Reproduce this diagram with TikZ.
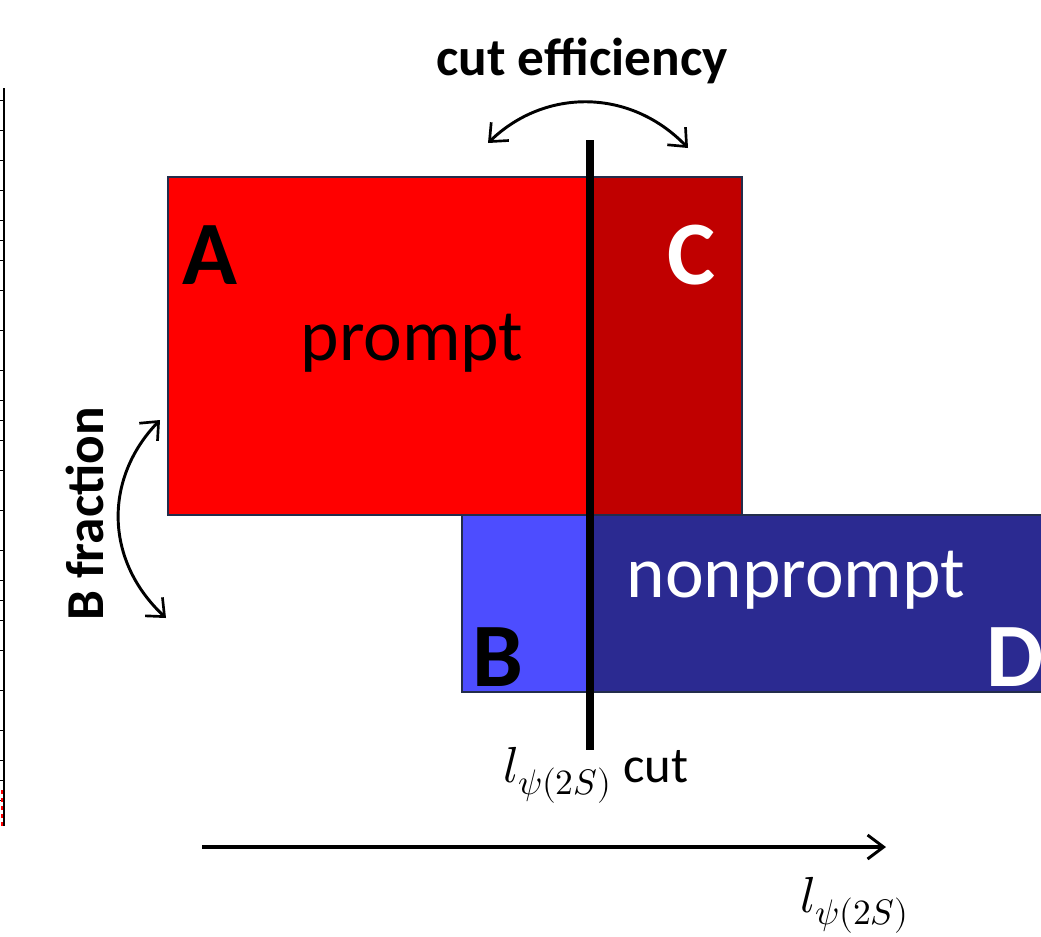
\documentclass[tikz,border=0pt]{standalone}
\usepackage{fontspec}
\usepackage{unicode-math}
\setmainfont{Carlito}
\setmathfont{Latin Modern Math}
\usetikzlibrary{arrows.meta}
\definecolor{promptred}{RGB}{255,0,0}
\definecolor{promptdark}{RGB}{192,0,0}
\definecolor{npblue}{RGB}{77,77,255}
\definecolor{npdark}{RGB}{43,42,145}
\definecolor{edge}{RGB}{35,45,75}
\tikzset{
  region/.style={draw=edge, line width=1.6pt},
  bigletter/.style={inner sep=0pt, anchor=base west, font=\fontsize{68}{68}\selectfont\bfseries},
  boldlabel/.style={inner sep=0pt, font=\fontsize{40}{40}\selectfont\bfseries},
  mainlabel/.style={inner sep=0pt, anchor=base, font=\fontsize{55}{55}\selectfont},
  mathlabel/.style={inner sep=0pt, anchor=base, font=\fontsize{38}{38}\selectfont},
  curvedarrow/.style={line width=2.2pt, {Straight Barb[length=11pt,width=19pt,line width=2pt]}-{Straight Barb[length=11pt,width=19pt,line width=2pt]}},
}
\begin{document}
\begin{tikzpicture}[x=0.75pt,y=-0.75pt]
\useasboundingbox (0,0) rectangle (1041,936);
% remnant of neighbouring plot at the left edge
\draw[line width=1.4pt] (4,88) -- (4,826);
\foreach \yy in {100,130,160,190,220,240,260,290,330,370,400,420,440,470,510,550,580,600,620,650,690,730,760,780,800}
  \draw[line width=0.6pt] (0,\yy) -- (4,\yy);
\draw[promptred, line width=1pt, dashed] (2,790) -- (2,826);
% regions
\fill[promptred] (168,177) rectangle (590,515);
\fill[promptdark] (590,177) rectangle (742,515);
\draw[region] (168,177) rectangle (742,515);
\fill[npblue] (462,515) rectangle (590,692);
\fill[npdark] (590,515) rectangle (1050,692);
\draw[region] (1050,515) -- (462,515) -- (462,692) -- (1050,692);
% cut line
\coordinate (cuttop) at (590,140);
\coordinate (cutbot) at (590,750);
\draw[line width=6pt] (cuttop) -- (cutbot);
% texts
\node[bigletter] (A) at (182,284) {A};
\node[bigletter, text=white] (C) at (667,284) {C};
\node[bigletter] (B) at (472,686) {B};
\node[bigletter, text=white] (D) at (986,686) {D};
\node[mainlabel] (prompt) at (412,360) {prompt};
\node[mainlabel, text=white] (nonprompt) at (796,597) {nonprompt};
\node[boldlabel, anchor=base] (cuteff) at (582,75) {cut efficiency};
\node[boldlabel, anchor=base, rotate=90] (bfrac) at (103,514) {B fraction};
\node[mathlabel] (cutlabel) at (596,782) {$l_{\psi(2S)}$ cut};
\node[mathlabel] (axislabel) at (855,912) {$l_{\psi(2S)}$};
% curved arrows
\coordinate (ce1) at (488,143);
\coordinate (ce2) at (688,148);
\draw[curvedarrow] (ce1) .. controls (545,88) and (630,88) .. (ce2);
\coordinate (bf1) at (160,420);
\coordinate (bf2) at (166,618);
\draw[curvedarrow] (bf1) .. controls (104,478) and (104,560) .. (bf2);
% axis
\coordinate (ax1) at (202,847);
\coordinate (ax2) at (886,847);
\draw[line width=2.4pt, -{Straight Barb[length=12pt,width=18pt,line width=2.2pt]}] (ax1) -- (ax2);
\end{tikzpicture}
\end{document}
